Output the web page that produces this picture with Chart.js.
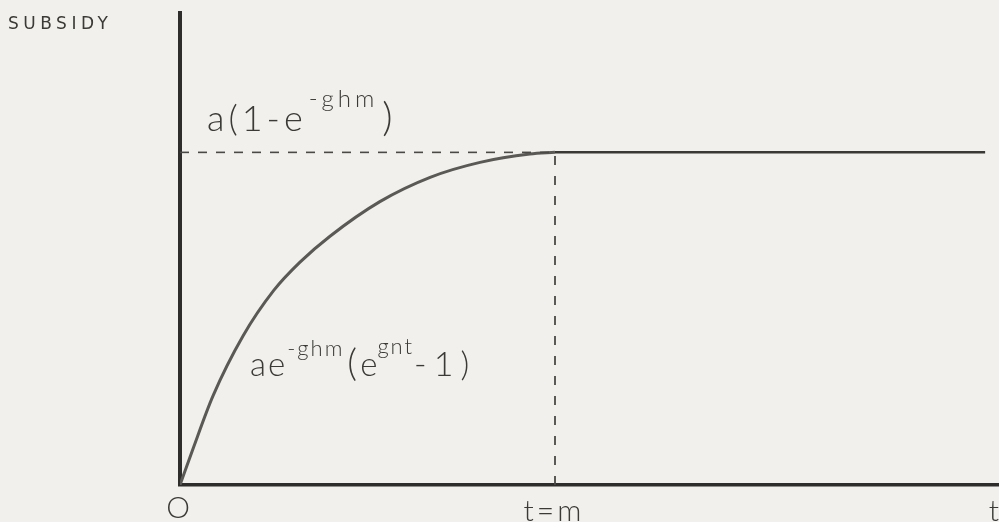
<!DOCTYPE html>
<html lang="en">
<head>
    <meta charset="UTF-8">
    <title>Subsidy over time</title>
    <script src="https://cdn.jsdelivr.net/npm/chart.js"></script>
    <style>
        html, body { margin: 0; padding: 0; background: #f1f0ed; }
        #wrap { width: 999px; height: 522px; position: relative; }
    </style>
</head>
<body>
    <div id="wrap"><canvas id="subsidyChart"></canvas></div>

    <script>
        // Subsidy path: rises from 0 to the ceiling a(1-e^-ghm) at t = m, then stays flat
        const riseT     = [0, 0.035, 0.088, 0.168, 0.25, 0.32, 0.40, 0.533, 0.667, 0.80, 0.933, 1];
        const riseS     = [0, 0.110, 0.268, 0.448, 0.585, 0.670, 0.748, 0.852, 0.925, 0.970, 0.995, 1];
        const flatT     = [1, 2.147];
        const flatS     = [1, 1];
        const ceilingT  = [0, 1];   // dashed guide to the y axis
        const ceilingS  = [1, 1];
        const markT     = [1, 1];   // dashed drop to t = m
        const markS     = [0, 1];

        const toPoints = (xs, ys) => xs.map((x, i) => ({ x: x, y: ys[i] }));

        const ink = '#2e2d2b';
        const handFont = (size) => `300 ${size}px Lato, "DejaVu Sans", sans-serif`;

        function spacing(ctx, px) {
            if (ctx.letterSpacing !== undefined) ctx.letterSpacing = px + 'px';
        }

        // draws text pieces one after another; sup pieces are raised and smaller
        function drawRun(ctx, x, y, pieces) {
            pieces.forEach(p => {
                ctx.font = handFont(p.size);
                spacing(ctx, p.space || 0);
                ctx.fillText(p.text, x + (p.dx || 0), y - (p.rise || 0));
                x += (p.dx || 0) + ctx.measureText(p.text).width;
            });
            spacing(ctx, 0);
        }

        const labelsPlugin = {
            id: 'labels',
            afterDraw(chart) {
                const ctx = chart.ctx;
                const xs = chart.scales.x, ys = chart.scales.y;
                const x0 = xs.getPixelForValue(0), y0 = ys.getPixelForValue(0);
                ctx.save();
                ctx.fillStyle = '#3b3a37';
                ctx.textBaseline = 'alphabetic';
                ctx.textAlign = 'left';

                ctx.font = '400 17px "DejaVu Sans", sans-serif';
                spacing(ctx, 4.5);
                ctx.fillText('SUBSIDY', 8, 29);
                spacing(ctx, 0);

                const yCeil = ys.getPixelForValue(1);
                drawRun(ctx, x0 + 27, yCeil - 21, [
                    { text: 'a(1-e', size: 36, space: 4 },
                    { text: '-ghm', size: 24, rise: 24, space: 4, dx: 2 },
                    { text: ')', size: 40, dx: 4 }
                ]);

                drawRun(ctx, x0 + 70, y0 - 109, [
                    { text: 'ae', size: 33, space: 2 },
                    { text: '-ghm', size: 22, rise: 20, space: 2 },
                    { text: '(', size: 38, dx: 3 },
                    { text: 'e', size: 33, dx: 3 },
                    { text: 'gnt', size: 22, rise: 22, space: 2 },
                    { text: '-1)', size: 34, space: 7 }
                ]);

                ctx.font = handFont(30);
                ctx.textAlign = 'center';
                ctx.fillText('O', x0 - 2, y0 + 33);
                spacing(ctx, 3);
                ctx.fillText('t=m', xs.getPixelForValue(1) - 1, y0 + 36);
                spacing(ctx, 0);
                ctx.textAlign = 'right';
                ctx.fillText('t', chart.width, y0 + 36);
                ctx.restore();
            }
        };

        const ctx = document.getElementById('subsidyChart').getContext('2d');
        new Chart(ctx, {
            type: 'scatter',
            data: {
                datasets: [
                    {
                        data: toPoints(ceilingT, ceilingS),
                        showLine: true,
                        borderColor: '#4a4946',
                        borderWidth: 1.6,
                        borderDash: [9, 9],
                        pointRadius: 0
                    },
                    {
                        data: toPoints(markT, markS),
                        showLine: true,
                        borderColor: '#4a4946',
                        borderWidth: 1.8,
                        borderDash: [9, 11],
                        pointRadius: 0
                    },
                    {
                        data: toPoints(riseT, riseS),
                        showLine: true,
                        borderColor: '#5a5955',
                        borderWidth: 3,
                        cubicInterpolationMode: 'monotone',
                        pointRadius: 0
                    },
                    {
                        data: toPoints(flatT, flatS),
                        showLine: true,
                        borderColor: '#3a3936',
                        borderWidth: 2.5,
                        pointRadius: 0
                    }
                ]
            },
            options: {
                responsive: true,
                maintainAspectRatio: false,
                animation: false,
                layout: { padding: { left: 172, top: 13, right: 0, bottom: 29 } },
                plugins: {
                    legend: { display: false },
                    tooltip: { enabled: false }
                },
                scales: {
                    x: {
                        type: 'linear',
                        min: 0,
                        max: 2.184,
                        grid: { display: false },
                        ticks: { display: false },
                        border: { color: ink, width: 3.5 }
                    },
                    y: {
                        type: 'linear',
                        min: 0,
                        max: 1.419,
                        grid: { display: false },
                        ticks: { display: false },
                        border: { color: ink, width: 4 }
                    }
                }
            },
            plugins: [labelsPlugin]
        });
    </script>
</body>
</html>
